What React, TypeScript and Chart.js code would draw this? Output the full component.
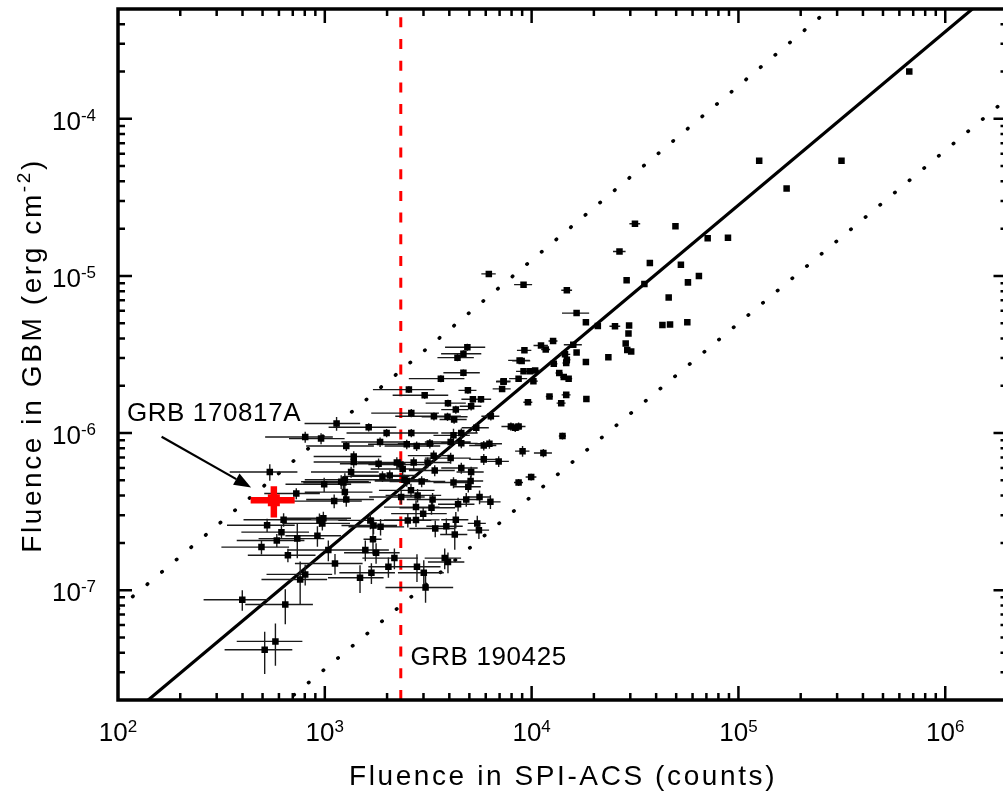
import React, { useEffect, useRef } from 'react';
import { Chart, registerables } from 'chart.js';

Chart.register(...registerables);

// Axis ranges
const X_MIN = 100;
const X_MAX = 2e6;
const Y_MIN = 2e-8;
const Y_MAX = 5e-4;

// GRB sample: SPI-ACS fluence (counts)
const spiFluence = [
  6.7e5, 1.26e5, 3.15e5, 1.71e5, 4.96e4, 7.1e4, 8.9e4, 5.27e4, 5.7e4, 6.44e4,
  4.6e4, 4.29e4, 4.67e4, 5.66e4, 3.16e4, 2.66e4, 3.73e4, 2.88e4, 3.51e4, 1.48e4,
  1.65e4, 1.83e4, 2.09e4, 2.53e4, 2.96e4, 2.94e4, 2.85e4, 2.9e4, 3.03e4, 2.35e4,
  1.83e4, 1.65e4, 1.59e4, 1.47e4, 1.27e4, 1.11e4, 1.17e4, 9.23e3, 1.45e4, 1.48e4,
  8.75e3, 8.95e3, 1.28e4, 9.14e3, 9.84e3, 1.04e4, 8.65e3, 1.02e4, 7.33e3, 1.36e4,
  1.43e4, 1.51e4, 7.2e3, 1.22e4, 1.47e4, 1.84e4, 6.21e3, 9.14e3,
  4.89e3, 4.68e3, 4.38e3, 4.68e3, 3.64e3, 2.55e3, 3.04e3, 3.94e3, 4.3e3, 5.2e3,
  5.69e3, 5.1e3, 4.92e3, 7.31e3, 9.6e3, 1.39e4, 3.92e3, 3.37e3, 6.35e3, 4.22e3,
  2.62e3, 1.99e3, 2.62e3, 1.63e3, 1.14e3, 1.85e3, 1.27e3, 2.49e3, 2.78e3, 3.22e3,
  4.06e3, 4.19e3, 4.57e3, 4.57e3, 5.4e3, 5.87e3, 6.25e3, 7.94e3, 8.33e3, 8.65e3,
  9.04e3, 1.14e4, 1.41e4, 1.38e3, 1.38e3, 1.82e3, 2.23e3, 2.32e3, 2.69e3, 3.14e3,
  3.36e3, 4.06e3, 4.57e3, 5.87e3, 6.93e3, 1.34e3, 1.9e3, 2.06e3, 2.38e3, 2.43e3,
  2.49e3, 3.4e3, 2.94e3, 4.19e3, 5.1e3, 5.07e3, 4.94e3, 1.11e3, 1.27e3, 1.2e3,
  1.23e3, 1.25e3, 1.25e3, 2.61e3, 2.81e3, 2.34e3, 3.32e3, 4.41e3, 4.83e3, 5.6e3,
  6.32e3, 2.76e3, 3.28e3, 2.99e3, 2.52e3, 2.76e3, 3.42e3, 3.87e3, 4.3e3, 4.25e3,
  5.46e3, 5.56e3, 1.66e3, 1.72e3, 1.86e3, 1.71e3, 1.57e3, 1.77e3, 2.17e3, 2.03e3,
  1.68e3, 1.48e3, 1.12e3, 1.04e3, 2.79e3, 3.01e3, 3.07e3, 3.8e3, 3.94e3, 8.65e3,
  9.95e3,
  804, 959, 542, 728, 993, 526, 632, 617, 586, 494,
  663, 736, 942, 973, 984, 921, 760, 804, 399, 644,
  577, 512,
];

// GRB sample: GBM fluence (erg cm^-2)
const gbmFluence = [
  2.0e-4, 5.4e-5, 5.4e-5, 3.6e-5, 2.07e-5, 1.74e-5, 1.75e-5, 1.18e-5, 9.1e-6, 1.0e-5,
  7.3e-6, 4.87e-6, 4.9e-6, 5.08e-6, 2.15e-5, 1.43e-5, 1.21e-5, 9.4e-6, 8.9e-6, 8.1e-6,
  5.8e-6, 5.08e-6, 4.8e-6, 4.78e-6, 4.84e-6, 4.3e-6, 3.72e-6, 3.38e-6, 3.3e-6, 3.04e-6,
  2.83e-6, 3.26e-6, 3.65e-6, 2.79e-6, 3.85e-6, 3.61e-6, 3.4e-6, 3.36e-6, 3.17e-6, 2.93e-6,
  2.9e-6, 2.88e-6, 2.76e-6, 2.47e-6, 2.47e-6, 2.5e-6, 2.22e-6, 2.14e-6, 2.14e-6, 2.41e-6,
  2.27e-6, 2.22e-6, 1.91e-6, 1.71e-6, 1.75e-6, 1.65e-6, 1.03e-5, 8.8e-6,
  3.52e-6, 3.2e-6, 3.02e-6, 2.42e-6, 2.22e-6, 1.89e-6, 1.74e-6, 1.55e-6, 1.41e-6, 1.64e-6,
  1.64e-6, 1.48e-6, 1.87e-6, 2.12e-6, 1.57e-6, 1.55e-6, 1.27e-6, 1.28e-6, 1.28e-6, 1.22e-6,
  1.34e-6, 1.0e-6, 1.0e-6, 1.09e-6, 1.15e-6, 8.77e-7, 8.27e-7, 8.48e-7, 8.27e-7, 8.57e-7,
  8.77e-7, 9.67e-7, 1.0e-6, 8.6e-7, 1.08e-6, 8.33e-7, 8.55e-7, 1.1e-6, 1.08e-6, 1.1e-6,
  7.67e-7, 7.46e-7, 9.57e-7, 7.1e-7, 6.54e-7, 6.38e-7, 6.5e-7, 6.3e-7, 6.5e-7, 6.5e-7,
  7.18e-7, 6.93e-7, 5.99e-7, 6.8e-7, 6.6e-7, 5.65e-7, 5.3e-7, 5.37e-7, 5.9e-7, 5.05e-7,
  4.95e-7, 5.78e-7, 4.92e-7, 4.85e-7, 5.65e-7, 4.95e-7, 4.55e-7, 3.69e-7, 3.78e-7, 4.9e-7,
  4.85e-7, 5.05e-7, 4.21e-7, 4.32e-7, 4.01e-7, 3.92e-7, 3.78e-7, 3.52e-7, 3.78e-7, 3.92e-7,
  3.65e-7, 3.38e-7, 3.35e-7, 3.07e-7, 2.78e-7, 2.8e-7, 2.47e-7, 2.55e-7, 2.81e-7, 2.26e-7,
  2.66e-7, 2.41e-7, 2.78e-7, 2.58e-7, 2.53e-7, 2.11e-7, 1.8e-7, 1.73e-7, 1.6e-7, 1.41e-7,
  1.29e-7, 1.2e-7, 1.48e-7, 1.8e-7, 1.41e-7, 1.29e-7, 1.04e-7, 1.6e-7, 1.51e-7, 4.85e-7,
  5.25e-7,
  9.43e-7, 9.22e-7, 5.65e-7, 4.12e-7, 4.72e-7, 2.59e-7, 2.81e-7, 2.34e-7, 2.07e-7, 1.88e-7,
  1.67e-7, 2.13e-7, 2.8e-7, 2.66e-7, 2.87e-7, 2.22e-7, 1.17e-7, 1.26e-7, 8.7e-8, 8.1e-8,
  4.72e-8, 4.18e-8,
];

// Relative 1-sigma errors
const spiRelErr = [
  0.02, 0.02, 0.02, 0.02, 0.02, 0.02, 0.02, 0.02, 0.02, 0.02,
  0.02, 0.02, 0.02, 0.02, 0.06, 0.07, 0.02, 0.02, 0.02, 0.06,
  0.15, 0.03, 0.03, 0.06, 0.02, 0.02, 0.02, 0.02, 0.02, 0.02,
  0.02, 0.03, 0.1, 0.04, 0.05, 0.08, 0.05, 0.08, 0.06, 0.04,
  0.12, 0.1, 0.04, 0.08, 0.05, 0.06, 0.1, 0.05, 0.08, 0.04,
  0.04, 0.04, 0.1, 0.04, 0.05, 0.03, 0.08, 0.1,
  0.22, 0.22, 0.2, 0.2, 0.3, 0.33, 0.3, 0.22, 0.15, 0.12,
  0.12, 0.12, 0.1, 0.08, 0.05, 0.05, 0.25, 0.35, 0.1, 0.15,
  0.36, 0.36, 0.35, 0.36, 0.3, 0.35, 0.36, 0.35, 0.3, 0.3,
  0.25, 0.2, 0.2, 0.2, 0.15, 0.15, 0.15, 0.1, 0.08, 0.08,
  0.08, 0.1, 0.04, 0.36, 0.36, 0.35, 0.35, 0.3, 0.3, 0.3,
  0.25, 0.25, 0.2, 0.15, 0.12, 0.36, 0.35, 0.35, 0.3, 0.3,
  0.3, 0.25, 0.3, 0.2, 0.15, 0.15, 0.15, 0.36, 0.36, 0.36,
  0.36, 0.36, 0.36, 0.3, 0.3, 0.3, 0.25, 0.2, 0.18, 0.12,
  0.12, 0.3, 0.3, 0.3, 0.3, 0.3, 0.25, 0.2, 0.15, 0.15,
  0.1, 0.12, 0.3, 0.3, 0.3, 0.1, 0.3, 0.3, 0.3, 0.2,
  0.3, 0.3, 0.36, 0.36, 0.3, 0.25, 0.36, 0.2, 0.2, 0.05,
  0.06,
  0.36, 0.3, 0.36, 0.3, 0.35, 0.36, 0.36, 0.36, 0.36, 0.36,
  0.36, 0.35, 0.36, 0.36, 0.36, 0.3, 0.35, 0.35, 0.35, 0.36,
  0.35, 0.36,
];

const gbmRelErr = [
  0.02, 0.02, 0.02, 0.02, 0.02, 0.02, 0.02, 0.02, 0.02, 0.02,
  0.02, 0.02, 0.02, 0.02, 0.02, 0.02, 0.02, 0.02, 0.02, 0.02,
  0.03, 0.02, 0.02, 0.02, 0.02, 0.02, 0.02, 0.02, 0.02, 0.02,
  0.02, 0.02, 0.03, 0.02, 0.03, 0.03, 0.03, 0.03, 0.03, 0.03,
  0.03, 0.03, 0.03, 0.03, 0.03, 0.03, 0.03, 0.03, 0.04, 0.03,
  0.03, 0.03, 0.04, 0.03, 0.03, 0.03, 0.02, 0.02,
  0.05, 0.05, 0.05, 0.05, 0.05, 0.05, 0.05, 0.05, 0.06, 0.05,
  0.05, 0.06, 0.05, 0.04, 0.04, 0.04, 0.06, 0.06, 0.06, 0.06,
  0.06, 0.06, 0.06, 0.06, 0.1, 0.07, 0.07, 0.07, 0.07, 0.07,
  0.07, 0.1, 0.07, 0.07, 0.07, 0.07, 0.07, 0.06, 0.06, 0.06,
  0.08, 0.06, 0.05, 0.08, 0.08, 0.08, 0.08, 0.08, 0.08, 0.08,
  0.08, 0.08, 0.08, 0.08, 0.08, 0.08, 0.08, 0.08, 0.08, 0.08,
  0.08, 0.08, 0.08, 0.08, 0.08, 0.08, 0.08, 0.1, 0.1, 0.1,
  0.1, 0.1, 0.1, 0.1, 0.1, 0.1, 0.1, 0.1, 0.1, 0.1,
  0.1, 0.1, 0.1, 0.1, 0.1, 0.1, 0.12, 0.12, 0.12, 0.2,
  0.12, 0.12, 0.12, 0.12, 0.12, 0.2, 0.15, 0.15, 0.15, 0.15,
  0.15, 0.2, 0.15, 0.15, 0.2, 0.2, 0.2, 0.15, 0.15, 0.05,
  0.05,
  0.08, 0.08, 0.12, 0.08, 0.1, 0.1, 0.1, 0.1, 0.1, 0.1,
  0.1, 0.25, 0.1, 0.1, 0.1, 0.15, 0.3, 0.15, 0.15, 0.25,
  0.3, 0.3,
];

// GRB 170817A: [low, value, high]
const grb170817Spi = [438, 567, 715];
const grb170817Gbm = [2.9e-7, 3.73e-7, 4.58e-7];

// Correlation fit and its band (end points across the x range)
const fitSpi = [100, 2e6];
const fitGbm = [1.38e-8, 7.7e-4];
const bandUpperGbm = [7.6e-8, 4.5e-3];
const bandLowerGbm = [2.5e-9, 1.35e-4];

// GRB 190425 SPI-ACS fluence (vertical marker)
const grb190425Spi = [2330, 2330];
const grb190425Gbm = [Y_MIN, Y_MAX];

// Annotations (data coordinates)
const noteText = ['GRB 170817A', 'GRB 190425'];
const noteSpi = [110.4, 2594];
const noteGbm = [1.185e-6, 3.34e-8];
const arrowSpi = [162.5, 440];
const arrowGbm = [9.47e-7, 4.5e-7];

// Tick decades
const xDecades = [2, 3, 4, 5, 6];
const yDecades = [-4, -5, -6, -7];

const FONT = "'Liberation Sans', Arial, Helvetica, sans-serif";

const toPts = (xs: number[], ys: number[]) => xs.map((x, i) => ({ x, y: ys[i] }));

const customPlugin = {
  id: 'customDecor',
  beforeDatasetDraw(chart: any, args: any) {
    const ds = chart.data.datasets[args.index];
    if (ds.label !== 'GRB sample' && ds.label !== 'GRB 170817A') return;
    const { ctx, chartArea: a } = chart;
    const xs = chart.scales.x;
    const ys = chart.scales.y;
    ctx.save();
    ctx.beginPath();
    ctx.rect(a.left, a.top, a.right - a.left, a.bottom - a.top);
    ctx.clip();
    if (ds.label === 'GRB sample') {
      ctx.strokeStyle = '#1a1a1a';
      ctx.lineWidth = 1.4;
      ctx.beginPath();
      for (let i = 0; i < spiFluence.length; i++) {
        const x = spiFluence[i];
        const y = gbmFluence[i];
        const dx = spiRelErr[i];
        const dy = gbmRelErr[i];
        const px = xs.getPixelForValue(x);
        const py = ys.getPixelForValue(y);
        ctx.moveTo(xs.getPixelForValue(x * (1 - dx)), py);
        ctx.lineTo(xs.getPixelForValue(x * (1 + dx)), py);
        ctx.moveTo(px, ys.getPixelForValue(y * (1 - dy)));
        ctx.lineTo(px, ys.getPixelForValue(y * (1 + dy)));
      }
      ctx.stroke();
    } else {
      ctx.strokeStyle = '#ff0000';
      ctx.lineWidth = 6.5;
      const px = xs.getPixelForValue(grb170817Spi[1]);
      const py = ys.getPixelForValue(grb170817Gbm[1]);
      ctx.beginPath();
      ctx.moveTo(xs.getPixelForValue(grb170817Spi[0]), py);
      ctx.lineTo(xs.getPixelForValue(grb170817Spi[2]), py);
      ctx.moveTo(px, ys.getPixelForValue(grb170817Gbm[0]));
      ctx.lineTo(px, ys.getPixelForValue(grb170817Gbm[2]));
      ctx.stroke();
    }
    ctx.restore();
  },
  afterDraw(chart: any) {
    const { ctx, chartArea: a } = chart;
    const xs = chart.scales.x;
    const ys = chart.scales.y;
    ctx.save();

    // ticks (inward, all four sides)
    ctx.strokeStyle = '#000';
    ctx.lineWidth = 2.5;
    ctx.beginPath();
    for (let e = 1; e <= 7; e++) {
      for (let m = 1; m <= 9; m++) {
        const v = m * Math.pow(10, e);
        if (v <= X_MIN || v >= X_MAX) continue;
        const px = xs.getPixelForValue(v);
        const len = m === 1 ? 14 : 7;
        ctx.moveTo(px, a.bottom);
        ctx.lineTo(px, a.bottom - len);
        ctx.moveTo(px, a.top);
        ctx.lineTo(px, a.top + len);
      }
    }
    for (let e = -9; e <= -3; e++) {
      for (let m = 1; m <= 9; m++) {
        const v = m * Math.pow(10, e);
        if (v <= Y_MIN * 1.0001 || v >= Y_MAX * 0.9999) continue;
        const py = ys.getPixelForValue(v);
        const len = m === 1 ? 14 : 7;
        ctx.moveTo(a.left, py);
        ctx.lineTo(a.left + len, py);
        ctx.moveTo(a.right, py);
        ctx.lineTo(a.right - len, py);
      }
    }
    ctx.stroke();

    // frame
    ctx.lineWidth = 3.5;
    ctx.strokeRect(a.left, a.top, a.right - a.left, a.bottom - a.top);

    // tick labels with superscripts
    ctx.fillStyle = '#000';
    ctx.textBaseline = 'alphabetic';
    ctx.textAlign = 'left';
    const baseFont = `26px ${FONT}`;
    const expFont = `17px ${FONT}`;
    xDecades.forEach((d) => {
      const px = xs.getPixelForValue(Math.pow(10, d));
      ctx.font = baseFont;
      const w1 = ctx.measureText('10').width;
      ctx.font = expFont;
      const expStr = String(d);
      const w2 = ctx.measureText(expStr).width;
      const x0 = px - (w1 + w2) / 2;
      const by = a.bottom + 41;
      ctx.font = baseFont;
      ctx.fillText('10', x0, by);
      ctx.font = expFont;
      ctx.fillText(expStr, x0 + w1, by - 9);
    });
    yDecades.forEach((d) => {
      const py = ys.getPixelForValue(Math.pow(10, d));
      ctx.font = baseFont;
      const w1 = ctx.measureText('10').width;
      ctx.font = expFont;
      const expStr = String(d);
      const w2 = ctx.measureText(expStr).width;
      const xr = a.left - 22;
      const by = py + 11;
      ctx.font = baseFont;
      ctx.fillText('10', xr - w1 - w2, by);
      ctx.font = expFont;
      ctx.fillText(expStr, xr - w2, by - 9);
    });

    // axis titles
    (ctx as any).letterSpacing = '2.6px';
    ctx.font = `28px ${FONT}`;
    ctx.textAlign = 'center';
    ctx.fillText('Fluence in SPI-ACS (counts)', 563, 785);

    ctx.save();
    ctx.translate(41, (a.top + a.bottom) / 2 + 1);
    ctx.rotate(-Math.PI / 2);
    ctx.textAlign = 'left';
    const t1 = 'Fluence in GBM (erg cm';
    const t2 = '-2';
    const t3 = ')';
    ctx.font = `28px ${FONT}`;
    const wa = ctx.measureText(t1).width;
    const wc = ctx.measureText(t3).width;
    ctx.font = `19px ${FONT}`;
    const wb = ctx.measureText(t2).width;
    let sx = -(wa + wb + wc) / 2;
    ctx.font = `28px ${FONT}`;
    ctx.fillText(t1, sx, 0);
    sx += wa;
    ctx.font = `19px ${FONT}`;
    ctx.fillText(t2, sx, -11);
    sx += wb;
    ctx.font = `28px ${FONT}`;
    ctx.fillText(t3, sx, 0);
    ctx.restore();

    // annotations
    (ctx as any).letterSpacing = '0.6px';
    ctx.font = `26px ${FONT}`;
    ctx.textAlign = 'left';
    noteText.forEach((t, i) => {
      ctx.fillText(t, xs.getPixelForValue(noteSpi[i]), ys.getPixelForValue(noteGbm[i]));
    });
    (ctx as any).letterSpacing = '0px';

    // arrow
    const ax0 = xs.getPixelForValue(arrowSpi[0]);
    const ay0 = ys.getPixelForValue(arrowGbm[0]);
    const ax1 = xs.getPixelForValue(arrowSpi[1]);
    const ay1 = ys.getPixelForValue(arrowGbm[1]);
    const ang = Math.atan2(ay1 - ay0, ax1 - ax0);
    const headL = 17;
    const headW = 6.5;
    const bx = ax1 - headL * Math.cos(ang);
    const by = ay1 - headL * Math.sin(ang);
    ctx.strokeStyle = '#000';
    ctx.lineWidth = 2.2;
    ctx.beginPath();
    ctx.moveTo(ax0, ay0);
    ctx.lineTo(bx, by);
    ctx.stroke();
    ctx.beginPath();
    ctx.moveTo(ax1, ay1);
    ctx.lineTo(bx + headW * Math.sin(ang), by - headW * Math.cos(ang));
    ctx.lineTo(bx - headW * Math.sin(ang), by + headW * Math.cos(ang));
    ctx.closePath();
    ctx.fillStyle = '#000';
    ctx.fill();

    ctx.restore();
  },
};

export default function App() {
  const ref = useRef<HTMLCanvasElement>(null);
  useEffect(() => {
    if (!ref.current) return;
    const chart = new Chart(ref.current, {
      type: 'scatter',
      data: {
        datasets: [
          {
            label: 'GRB 170817A',
            data: [{ x: grb170817Spi[1], y: grb170817Gbm[1] }],
            pointStyle: 'rect',
            pointRadius: 8.5,
            backgroundColor: '#ff0000',
            borderWidth: 0,
            order: 0,
          },
          {
            label: 'GRB sample',
            data: toPts(spiFluence, gbmFluence),
            pointStyle: 'rect',
            pointRadius: 4.6,
            backgroundColor: '#000',
            borderWidth: 0,
            order: 1,
          },
          {
            label: 'GRB 190425',
            data: toPts(grb190425Spi, grb190425Gbm),
            showLine: true,
            borderColor: '#ff0000',
            borderWidth: 3,
            borderDash: [10, 11.7],
            pointRadius: 0,
            order: 2,
          },
          {
            label: 'fit',
            data: toPts(fitSpi, fitGbm),
            showLine: true,
            borderColor: '#000',
            borderWidth: 3.2,
            pointRadius: 0,
            order: 3,
          },
          {
            label: 'upper',
            data: toPts(fitSpi, bandUpperGbm),
            showLine: true,
            borderColor: '#000',
            borderWidth: 3.6,
            borderDash: [0.5, 18.6],
            borderCapStyle: 'round',
            pointRadius: 0,
            order: 4,
          },
          {
            label: 'lower',
            data: toPts(fitSpi, bandLowerGbm),
            showLine: true,
            borderColor: '#000',
            borderWidth: 3.6,
            borderDash: [0.5, 18.6],
            borderCapStyle: 'round',
            pointRadius: 0,
            order: 5,
          },
        ] as any,
      },
      options: {
        animation: false,
        responsive: false,
        maintainAspectRatio: false,
        devicePixelRatio: 1,
        layout: { padding: { left: 118, top: 9, right: 2, bottom: 97 } },
        plugins: {
          legend: { display: false },
          tooltip: { enabled: false },
          title: { display: false },
        },
        events: [],
        scales: {
          x: { type: 'logarithmic', min: X_MIN, max: X_MAX, display: false },
          y: { type: 'logarithmic', min: Y_MIN, max: Y_MAX, display: false },
        },
      },
      plugins: [customPlugin],
    } as any);
    return () => chart.destroy();
  }, []);
  return (
    <div
      style={{
        position: 'fixed',
        left: 0,
        top: 0,
        width: 1003,
        height: 797,
        overflow: 'hidden',
        background: '#fff',
      }}
    >
      <canvas ref={ref} width={1016} height={797} style={{ display: 'block', width: 1016, height: 797 }} />
    </div>
  );
}
